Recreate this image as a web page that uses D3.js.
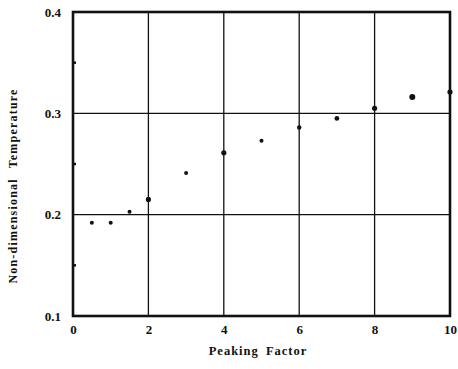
<!DOCTYPE html>
<html>
<head>
<meta charset="utf-8">
<script src="https://cdn.jsdelivr.net/npm/d3@7"></script>
<style>
  body { margin: 0; background: #fff; }
  text { font-family: "Liberation Serif", "DejaVu Serif", serif; font-weight: bold; fill: #111; }
</style>
</head>
<body>
<div id="chart"></div>
<script>
// Data
const peaking = [0.5, 1, 1.5, 2, 3, 4, 5, 6, 7, 8, 9, 10];
const temperature = [0.192, 0.192, 0.203, 0.215, 0.241, 0.261, 0.273, 0.286, 0.295, 0.305, 0.316, 0.321];
const dotSize = [2, 2, 2, 2.6, 2, 2.6, 2, 2.2, 2.4, 2.6, 3, 2.6];
const xTicks = [0, 2, 4, 6, 8, 10];
const yTicks = [0.1, 0.2, 0.3, 0.4];
const yMinor = [0.15, 0.25, 0.35];

const width = 458;
const height = 369;
const margin = { top: 12, right: 8, bottom: 53, left: 73 };

const svg = d3.select("#chart")
  .append("svg")
  .attr("width", width)
  .attr("height", height);

const x = d3.scaleLinear()
  .domain([0, 10])
  .range([margin.left, width - margin.right]);

const y = d3.scaleLinear()
  .domain([0.1, 0.4])
  .range([height - margin.bottom, margin.top]);

// Grid lines
svg.append("g")
  .selectAll("line")
  .data(xTicks.slice(1, -1))
  .enter()
  .append("line")
  .attr("x1", d => x(d)).attr("x2", d => x(d))
  .attr("y1", y(0.4)).attr("y2", y(0.1))
  .attr("stroke", "#111")
  .attr("stroke-width", 1.3);

svg.append("g")
  .selectAll("line")
  .data(yTicks.slice(1, -1))
  .enter()
  .append("line")
  .attr("x1", x(0)).attr("x2", x(10))
  .attr("y1", d => y(d)).attr("y2", d => y(d))
  .attr("stroke", "#111")
  .attr("stroke-width", 1.3);

// Minor ticks on the left axis
svg.append("g")
  .selectAll("line")
  .data(yMinor)
  .enter()
  .append("line")
  .attr("x1", x(0)).attr("x2", x(0) + 3)
  .attr("y1", d => y(d)).attr("y2", d => y(d))
  .attr("stroke", "#111")
  .attr("stroke-width", 2.5);

// Frame
svg.append("rect")
  .attr("x", x(0))
  .attr("y", y(0.4))
  .attr("width", x(10) - x(0))
  .attr("height", y(0.1) - y(0.4))
  .attr("fill", "none")
  .attr("stroke", "#111")
  .attr("stroke-width", 2.6);

// Points
svg.append("g")
  .selectAll("circle")
  .data(peaking)
  .enter()
  .append("circle")
  .attr("cx", d => x(d))
  .attr("cy", (d, i) => y(temperature[i]))
  .attr("r", (d, i) => dotSize[i])
  .attr("fill", "#111");

// Axes (labels only)
const xAxis = svg.append("g")
  .attr("transform", `translate(0,${y(0.1)})`)
  .call(d3.axisBottom(x).tickValues(xTicks).tickFormat(d3.format("d")).tickSize(0).tickPadding(9));

const yAxis = svg.append("g")
  .attr("transform", `translate(${x(0)},0)`)
  .call(d3.axisLeft(y).tickValues(yTicks).tickFormat(d3.format(".1f")).tickSize(0).tickPadding(12));

[xAxis, yAxis].forEach(g => {
  g.select(".domain").remove();
  g.selectAll("text")
    .attr("font-size", "13px")
    .attr("font-family", "Liberation Serif, serif")
    .attr("font-weight", "bold")
    .attr("fill", "#111");
});

// Axis titles
svg.append("text")
  .attr("x", 258)
  .attr("y", height - 14)
  .attr("text-anchor", "middle")
  .attr("font-size", "12.5px")
  .attr("letter-spacing", "1px")
  .attr("word-spacing", "3px")
  .text("Peaking Factor");

svg.append("text")
  .attr("text-anchor", "middle")
  .attr("transform", `translate(17,186) rotate(-90)`)
  .attr("font-size", "12px")
  .attr("letter-spacing", "1.2px")
  .attr("word-spacing", "6px")
  .text("Non-dimensional Temperature");
</script>
</body>
</html>
